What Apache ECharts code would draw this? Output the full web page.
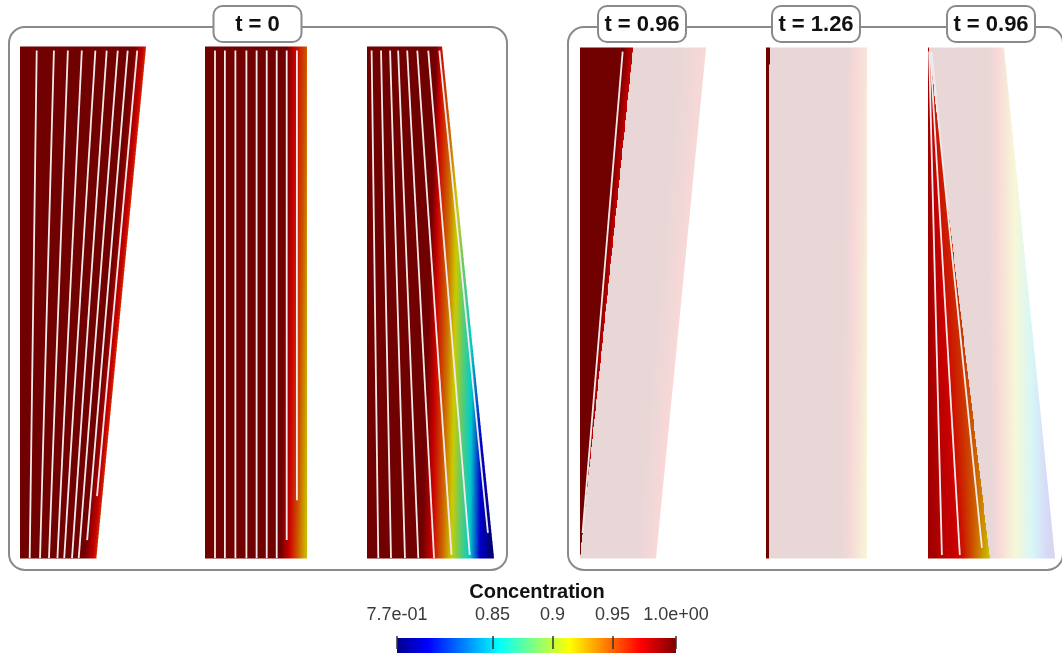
<!DOCTYPE html>
<html>
<head>
<meta charset="utf-8">
<script src="https://cdn.jsdelivr.net/npm/echarts@6/dist/echarts.min.js"></script>
<style>
html, body { margin: 0; padding: 0; background: #fff; }
#chart { width: 1062px; height: 657px; }
</style>
</head>
<body>
<div id="chart"></div>
<script>
// colour range of the Concentration bar
var concMin = 0.7705, concMax = 1.003;
var barTicks = [0.7705, 0.85, 0.9, 0.95, 1.003];
var barTickLabels = ['7.7e-01', '0.85', '0.9', '0.95', '1.0e+00'];
var panelTitles = ['t = 0', 't = 0.96', 't = 1.26', 't = 0.96'];

// jet map: [position along the bar, r, g, b]
var jetStops = [[0, 0, 0, 143], [0.111, 0, 0, 255], [0.365, 0, 255, 255], [0.492, 128, 255, 128],
    [0.619, 255, 255, 0], [0.873, 255, 0, 0], [1, 128, 0, 0]];

// outline of each column, fraction of its box: [left top, right top, left bottom, right bottom]
var col1Edge = [0, 1, 0, 0.606];
var col2Edge = [0, 1, 0, 1];
var col3Edge = [0, 0.591, 0, 1];
var col4Edge = [0, 1, 0, 0.603];
var col5Edge = [0, 1, 0, 1];
var col6Edge = [0, 0.598, 0, 1];

// iso-concentration lines: [value, x at top, x at bottom]
var col1Iso = [[1.0, 0.897, 0.508], [0.975, 0.976, 0.579], [0.955, 1.01, 0.615]];
var col2Iso = [[1.0, 0.80, 0.742], [0.975, 0.88, 0.82], [0.95, 0.99, 0.90], [0.92, 1.05, 0.986]];
var col3Iso = [[1.0, 0.545, 0.430], [0.971, 0.583, 0.520], [0.942, 0.669, 0.598], [0.912, 0.732, 0.669],
    [0.883, 0.780, 0.732], [0.854, 0.843, 0.811], [0.796, 0.921, 0.890], [0.77, 1.016, 0.984]];
// right panel: field behind the front (opaque) and ahead of it (faded)
var col4Iso = [[1.0, 0.335, 0.0], [0.975, 0.421, 0.0]];
var col4Pale = [[1.0, 0.80, 0.45], [0.97, 1.0, 0.603]];
var col5Iso = [[1.0, 0, 0]];
var col5Pale = [[1.0, 0.80, 0.742], [0.975, 0.88, 0.82], [0.95, 0.99, 0.90], [0.92, 1.05, 0.986]];
var col6Iso = [[0.987, 0, 0], [0.98, 0.004, 0.11], [0.974, 0.01, 0.22], [0.968, 0.02, 0.28], [0.915, 0.9, 0.488]];
var col6Pale = [[1.0, 0.47, 0.50], [0.97, 0.55, 0.555], [0.91, 0.69, 0.70], [0.85, 0.82, 0.83],
    [0.79, 0.95, 0.96], [0.77, 1.05, 1.05]];

// front of the fluid that has arrived (right panel): [x at top, x at bottom]
var col4Front = [0.421, 0.0];
var col5Front = [0.035, 0.025];
var col6Front = [0.008, 0.488];

// streamlines: [x at top, x at bottom, height where the line stops]
var col1Stream = [[0.133, 0.077, 0], [0.270, 0.159, 0], [0.381, 0.230, 0], [0.492, 0.297, 0], [0.600, 0.351, 0],
    [0.690, 0.413, 0], [0.778, 0.466, 0], [0.857, 0.521, 0.035], [0.933, 0.567, 0.121]];
var col2Stream = [[0.098, 0.098, 0], [0.195, 0.195, 0], [0.298, 0.298, 0], [0.406, 0.406, 0], [0.506, 0.506, 0],
    [0.605, 0.605, 0], [0.703, 0.703, 0], [0.801, 0.801, 0.035], [0.901, 0.901, 0.113]];
var col3Stream = [[0.036, 0.089, 0], [0.110, 0.189, 0], [0.181, 0.299, 0], [0.244, 0.404, 0], [0.315, 0.528, 0],
    [0.394, 0.667, 0.006], [0.480, 0.811, 0.006], [0.567, 0.972, 0.049]];
var col4Stream = [[0.341, 0.004, 0.049]];
var col5Stream = [];
var col6Stream = [[0.008, 0.110, 0.006], [0.016, 0.252, 0.006], [0.024, 0.433, 0.02]];

var columns = [
    { edge: col1Edge, iso: col1Iso, pale: null, front: null, stream: col1Stream },
    { edge: col2Edge, iso: col2Iso, pale: null, front: null, stream: col2Stream },
    { edge: col3Edge, iso: col3Iso, pale: null, front: null, stream: col3Stream },
    { edge: col4Edge, iso: col4Iso, pale: col4Pale, front: col4Front, stream: col4Stream },
    { edge: col5Edge, iso: col5Iso, pale: col5Pale, front: col5Front, stream: col5Stream },
    { edge: col6Edge, iso: col6Iso, pale: col6Pale, front: col6Front, stream: col6Stream }
];
// column boxes on the page
var boxes = [[20, 47, 126, 511], [205, 47, 102, 511], [367, 47, 127, 511],
    [580, 48, 126, 510], [766, 48, 101, 510], [928, 48, 127, 510]];

var shade = 0.8, fadeAlpha = 0.155;
var nRows = 128;
var rows = [];
for (var k = 0; k < nRows; k++) rows.push([k / nRows, (k + 1) / nRows]);

function jet(v) {
    var t = (v - concMin) / (concMax - concMin);
    t = Math.max(0, Math.min(1, t));
    for (var i = 0; i < jetStops.length - 1; i++) {
        var a = jetStops[i], b = jetStops[i + 1];
        if (t <= b[0]) {
            var f = (t - a[0]) / (b[0] - a[0]);
            return [a[1] + (b[1] - a[1]) * f, a[2] + (b[2] - a[2]) * f, a[3] + (b[3] - a[3]) * f];
        }
    }
    var l = jetStops[jetStops.length - 1];
    return [l[1], l[2], l[3]];
}

function surfColor(v, faded) {
    var c = jet(v).map(function (x) {
        x = x * shade;
        if (faded) x = 255 - fadeAlpha * (255 - x);
        return Math.round(x);
    });
    return 'rgb(' + c.join(',') + ')';
}

function field(iso, x, y) {
    var pos = iso.map(function (s) { return s[1] * y + s[2] * (1 - y); });
    if (x <= pos[0]) return iso[0][0];
    for (var i = 0; i < iso.length - 1; i++) {
        if (x <= pos[i + 1]) {
            var d = pos[i + 1] - pos[i];
            if (d < 1e-9) return iso[i + 1][0];
            return iso[i][0] + (iso[i + 1][0] - iso[i][0]) * (x - pos[i]) / d;
        }
    }
    return iso[iso.length - 1][0];
}

function rowRender(col) {
    var e = col.edge;
    function L(y) { return e[2] + (e[0] - e[2]) * y; }
    function R(y) { return e[3] + (e[1] - e[3]) * y; }
    return function (params, api) {
        var y0 = api.value(0), y1 = api.value(1), ym = (y0 + y1) / 2;
        var p1 = api.coord([L(y1), y1]), p2 = api.coord([R(y1), y1]);
        var p3 = api.coord([R(y0), y0]), p4 = api.coord([L(y0), y0]);
        p1[1] -= 0.5; p2[1] -= 0.5; p3[1] += 0.5; p4[1] += 0.5;
        var xl = L(ym), xr = R(ym);
        var pl = api.coord([xl, ym]), pr = api.coord([xr, ym]);
        var front = col.front ? col.front[0] * ym + col.front[1] * (1 - ym) : null;
        var list = [];
        for (var j = 0; j <= 40; j++) list.push({ o: j / 40 });
        col.iso.concat(col.pale || []).forEach(function (s) {
            var p = (s[1] * ym + s[2] * (1 - ym) - xl) / (xr - xl);
            if (p > 0 && p < 1) list.push({ o: p });
        });
        if (front !== null) {
            var fp = (front - xl) / (xr - xl);
            if (fp > 0 && fp < 1) {
                list.push({ o: fp, side: 'L' });
                list.push({ o: fp, side: 'R' });
            }
        }
        list.sort(function (a, b) {
            if (a.o !== b.o) return a.o - b.o;
            return (a.side === 'L' ? 0 : 1) - (b.side === 'L' ? 0 : 1);
        });
        var stops = list.map(function (it) {
            var x = xl + it.o * (xr - xl);
            var faded = front !== null && (it.side ? it.side === 'R' : x > front);
            var v = faded ? field(col.pale, x, ym) : field(col.iso, x, ym);
            return { offset: it.o, color: surfColor(v, faded) };
        });
        return {
            type: 'polygon',
            silent: true,
            shape: { points: [p1, p2, p3, p4] },
            style: { fill: { type: 'linear', x: pl[0], y: 0, x2: pr[0], y2: 0, global: true, colorStops: stops } }
        };
    };
}

function streamRender(params, api) {
    var xt = api.value(0), xb = api.value(1), ye = api.value(2);
    var ys = 0.993;
    var a = api.coord([xb + (xt - xb) * ys, ys]);
    var b = api.coord([xb + (xt - xb) * ye, ye]);
    return {
        type: 'line',
        silent: true,
        shape: { x1: a[0], y1: a[1], x2: b[0], y2: b[1] },
        style: { stroke: '#f2eaea', lineWidth: 1.8 }
    };
}

var grids = [], xAxes = [], yAxes = [], series = [];
boxes.forEach(function (b, i) {
    grids.push({ left: b[0], top: b[1], width: b[2], height: b[3] });
    xAxes.push({ gridIndex: i, type: 'value', min: 0, max: 1, show: false });
    yAxes.push({ gridIndex: i, type: 'value', min: 0, max: 1, show: false });
    series.push({
        type: 'custom', xAxisIndex: i, yAxisIndex: i, data: rows,
        renderItem: rowRender(columns[i]), z: 2
    });
    series.push({
        type: 'custom', xAxisIndex: i, yAxisIndex: i, data: columns[i].stream,
        renderItem: streamRender, z: 3
    });
});

// colour bar
grids.push({ left: 397, top: 638, width: 279, height: 15 });
xAxes.push({
    gridIndex: 6, type: 'value', min: concMin, max: concMax, position: 'top', offset: -4, z: 10,
    axisLine: { show: false },
    splitLine: { show: false },
    axisTick: { show: true, customValues: barTicks, length: 13, lineStyle: { color: '#333', width: 1.5 } },
    axisLabel: {
        customValues: barTicks, margin: 18, color: '#3a3a3a', fontSize: 18,
        fontFamily: 'Liberation Sans', hideOverlap: false,
        formatter: function (v) {
            for (var i = 0; i < barTicks.length; i++) {
                if (Math.abs(v - barTicks[i]) < 1e-6) return barTickLabels[i];
            }
            return '';
        }
    }
});
yAxes.push({ gridIndex: 6, type: 'value', min: 0, max: 1, show: false });
series.push({
    type: 'custom', xAxisIndex: 6, yAxisIndex: 6, data: [[concMin, concMax]], z: 2,
    renderItem: function (params, api) {
        var a = api.coord([api.value(0), 1]), b = api.coord([api.value(1), 0]);
        return {
            type: 'rect', silent: true,
            shape: { x: a[0], y: a[1], width: b[0] - a[0], height: b[1] - a[1] },
            style: {
                fill: {
                    type: 'linear', x: 0, y: 0, x2: 1, y2: 0,
                    colorStops: jetStops.map(function (s) {
                        return { offset: s[0], color: 'rgb(' + s[1] + ',' + s[2] + ',' + s[3] + ')' };
                    })
                }
            }
        };
    }
});

// panel frames and time labels
var frameStyle = { fill: 'none', stroke: '#8a8a8a', lineWidth: 2 };
var graphics = [
    { type: 'rect', z: 1, shape: { x: 9, y: 27, width: 498, height: 543, r: 16 }, style: frameStyle },
    { type: 'rect', z: 1, shape: { x: 568, y: 27, width: 495, height: 543, r: 16 }, style: frameStyle }
];
var titleCenters = [257.5, 642, 816, 991];
panelTitles.forEach(function (t, i) {
    graphics.push({
        type: 'rect', z: 5,
        shape: { x: titleCenters[i] - 44, y: 6, width: 88, height: 36, r: 9 },
        style: { fill: '#fff', stroke: '#8a8a8a', lineWidth: 2 }
    });
    graphics.push({
        type: 'text', z: 6, x: titleCenters[i], y: 25,
        style: { text: t, fill: '#111', font: 'bold 22px "Liberation Sans"', align: 'center', verticalAlign: 'middle' }
    });
});
graphics.push({
    type: 'text', z: 6, x: 537, y: 592,
    style: { text: 'Concentration', fill: '#111', font: 'bold 20px "Liberation Sans"', align: 'center', verticalAlign: 'middle' }
});

var chart = echarts.init(document.getElementById('chart'), null, { renderer: 'canvas' });
chart.setOption({
    animation: false,
    backgroundColor: '#fff',
    textStyle: { fontFamily: 'Liberation Sans' },
    grid: grids,
    xAxis: xAxes,
    yAxis: yAxes,
    series: series,
    graphic: graphics
});
</script>
</body>
</html>
